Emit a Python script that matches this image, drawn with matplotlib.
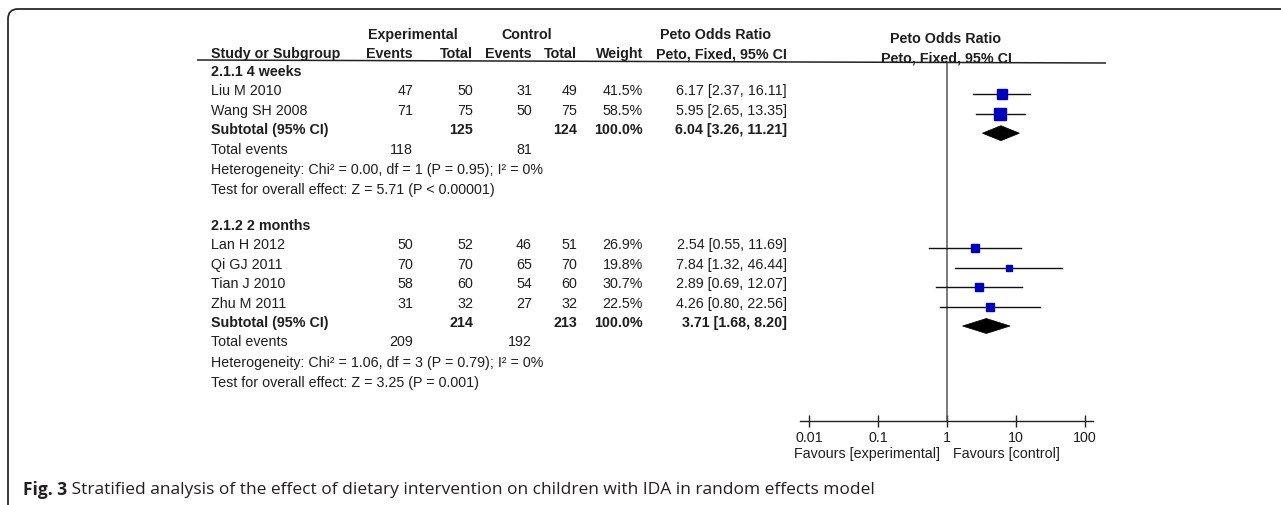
import matplotlib
matplotlib.use("Agg")
import matplotlib.pyplot as plt
from matplotlib.path import Path
from matplotlib.patches import PathPatch, Polygon
import numpy as np

# ---------------- data ----------------
sub1_title = "2.1.1 4 weeks"
sub1_studies = ["Liu M 2010", "Wang SH 2008"]
sub1_exp_events = [47, 71]
sub1_exp_total = [50, 75]
sub1_ctl_events = [31, 50]
sub1_ctl_total = [49, 75]
sub1_weight = [41.5, 58.5]
sub1_or = [6.17, 5.95]
sub1_lo = [2.37, 2.65]
sub1_hi = [16.11, 13.35]
sub1_tot_exp, sub1_tot_ctl = 125, 124
sub1_ev_exp, sub1_ev_ctl = 118, 81
sub1_pooled = (6.04, 3.26, 11.21)
sub1_het = "Heterogeneity: Chi\u00b2 = 0.00, df = 1 (P = 0.95); I\u00b2 = 0%"
sub1_test = "Test for overall effect: Z = 5.71 (P < 0.00001)"

sub2_title = "2.1.2 2 months"
sub2_studies = ["Lan H 2012", "Qi GJ 2011", "Tian J 2010", "Zhu M 2011"]
sub2_exp_events = [50, 70, 58, 31]
sub2_exp_total = [52, 70, 60, 32]
sub2_ctl_events = [46, 65, 54, 27]
sub2_ctl_total = [51, 70, 60, 32]
sub2_weight = [26.9, 19.8, 30.7, 22.5]
sub2_or = [2.54, 7.84, 2.89, 4.26]
sub2_lo = [0.55, 1.32, 0.69, 0.80]
sub2_hi = [11.69, 46.44, 12.07, 22.56]
sub2_tot_exp, sub2_tot_ctl = 214, 213
sub2_ev_exp, sub2_ev_ctl = 209, 192
sub2_pooled = (3.71, 1.68, 8.20)
sub2_het = "Heterogeneity: Chi\u00b2 = 1.06, df = 3 (P = 0.79); I\u00b2 = 0%"
sub2_test = "Test for overall effect: Z = 3.25 (P = 0.001)"

tick_values = [0.01, 0.1, 1, 10, 100]
tick_labels = ["0.01", "0.1", "1", "10", "100"]
favours_left = "Favours [experimental]"
favours_right = "Favours [control]"
caption_bold = "Fig. 3"
caption_text = "Stratified analysis of the effect of dietary intervention on children with IDA in random effects model"

# ---------------- layout ----------------
W, H = 1281, 506
fig = plt.figure(figsize=(W / 100, H / 100), dpi=100)
plt.rcParams['font.family'] = ['Liberation Sans', 'DejaVu Sans']
TXT = '#1e1e1e'
FS = 10.3

ax = fig.add_axes([0, 0, 1, 1])
ax.set_xlim(0, W)
ax.set_ylim(H, 0)
ax.axis('off')

# frame with rounded corner
r = 10
verts = [(W, 10), (8 + r, 10), (8, 10), (8, 10 + r), (8, H)]
codes = [Path.MOVETO, Path.LINETO, Path.CURVE3, Path.CURVE3, Path.LINETO]
ax.add_patch(PathPatch(Path(verts, codes), fill=False, lw=1.3, ec='#2a2a2a'))

# column positions (px)
X_NAME = 211
X_EE, X_ET, X_CE, X_CT, X_W, X_CI = 413, 473, 532, 577, 643, 787

def t(x, y, s, ha='left', bold=False, size=FS, **kw):
    ax.text(x, y, s, ha=ha, va='center', fontsize=size, color=TXT,
            fontweight='bold' if bold else 'normal', **kw)

# headers
t(413, 35, "Experimental", ha='center', bold=True)
t(527, 35, "Control", ha='center', bold=True)
t(716, 35, "Peto Odds Ratio", ha='center', bold=True)
t(946, 39, "Peto Odds Ratio", ha='center', bold=True)
y_h2 = 54
t(X_NAME, y_h2, "Study or Subgroup", bold=True)
t(X_EE, y_h2, "Events", ha='right', bold=True)
t(X_ET, y_h2, "Total", ha='right', bold=True)
t(X_CE, y_h2, "Events", ha='right', bold=True)
t(X_CT, y_h2, "Total", ha='right', bold=True)
t(X_W, y_h2, "Weight", ha='right', bold=True)
t(X_CI, y_h2, "Peto, Fixed, 95% CI", ha='right', bold=True)
t(946, 58, "Peto, Fixed, 95% CI", ha='center', bold=True)
ax.plot([197, 1106], [61, 64], color='#222222', lw=1.1, solid_capstyle='butt')

ROW = 19.4
AXIS_Y = 422
# forest axes sized in px coordinates
x_lo_px, x_hi_px = 800, 1093
one_px, dec_px = 947, 69
top_px = 64
fax = fig.add_axes([x_lo_px / W, 1 - AXIS_Y / H, (x_hi_px - x_lo_px) / W, (AXIS_Y - top_px) / H])
fax.set_xscale('log')
fax.set_xlim(10 ** ((x_lo_px - one_px) / dec_px), 10 ** ((x_hi_px - one_px) / dec_px))
fax.set_ylim(AXIS_Y, top_px)
fax.patch.set_alpha(0)
for s in ['top', 'left', 'right']:
    fax.spines[s].set_visible(False)
fax.spines['bottom'].set_color('#222222')
fax.spines['bottom'].set_linewidth(1.0)
fax.set_yticks([])
fax.set_xticks(tick_values)
fax.set_xticklabels(tick_labels)
fax.minorticks_off()
fax.tick_params(axis='x', direction='inout', length=9, width=1.0, color='#222222',
                labelsize=FS, labelcolor=TXT, pad=2)
fax.axvline(1, color='#555555', lw=1.1)

def fmt_ci(v):
    return f"{v[0]:.2f} [{v[1]:.2f}, {v[2]:.2f}]"

def block(y0, title, studies, ee, et, ce, ct, wt, orr, lo, hi, tot_e, tot_c, ev_e, ev_c, pooled, het, test):
    t(X_NAME, y0, title, bold=True)
    y = y0
    for i, s in enumerate(studies):
        y = y0 + ROW * (i + 1)
        t(X_NAME, y, s)
        t(X_EE, y, str(ee[i]), ha='right')
        t(X_ET, y, str(et[i]), ha='right')
        t(X_CE, y, str(ce[i]), ha='right')
        t(X_CT, y, str(ct[i]), ha='right')
        t(X_W, y, f"{wt[i]:.1f}%", ha='right')
        t(X_CI, y, fmt_ci((orr[i], lo[i], hi[i])), ha='right')
        yp = y + 4
        fax.plot([lo[i], hi[i]], [yp, yp], color='#111111', lw=1.0, zorder=2)
        fax.plot([orr[i]], [yp], marker='s', ms=1.12 * np.sqrt(wt[i]),
                 color='#0000bf', mec='#0000bf', zorder=3)
    y = y + ROW
    t(X_NAME, y, "Subtotal (95% CI)", bold=True)
    t(X_ET, y, str(tot_e), ha='right', bold=True)
    t(X_CT, y, str(tot_c), ha='right', bold=True)
    t(X_W, y, "100.0%", ha='right', bold=True)
    t(X_CI, y, fmt_ci(pooled), ha='right', bold=True)
    yp = y + 4
    hh = 7.5
    fax.add_patch(Polygon([(pooled[1], yp), (pooled[0], yp - hh), (pooled[2], yp), (pooled[0], yp + hh)],
                          closed=True, fc='black', ec='black', lw=0.5, zorder=3))
    y = y + ROW
    t(X_NAME, y, "Total events")
    t(X_EE, y, str(ev_e), ha='right')
    t(X_CE, y, str(ev_c), ha='right')
    y = y + ROW + 1
    t(X_NAME, y, het)
    y = y + ROW + 1
    t(X_NAME, y, test)

block(72, sub1_title, sub1_studies, sub1_exp_events, sub1_exp_total, sub1_ctl_events, sub1_ctl_total,
      sub1_weight, sub1_or, sub1_lo, sub1_hi, sub1_tot_exp, sub1_tot_ctl, sub1_ev_exp, sub1_ev_ctl,
      sub1_pooled, sub1_het, sub1_test)
block(226, sub2_title, sub2_studies, sub2_exp_events, sub2_exp_total, sub2_ctl_events, sub2_ctl_total,
      sub2_weight, sub2_or, sub2_lo, sub2_hi, sub2_tot_exp, sub2_tot_ctl, sub2_ev_exp, sub2_ev_ctl,
      sub2_pooled, sub2_het, sub2_test)

# favours labels
t(940, 454, favours_left, ha='right')
t(953, 454, favours_right, ha='left')

# caption
c1 = ax.text(23, 490, caption_bold, ha='left', va='center', fontsize=12.5, fontweight='bold',
             color='#231f20', family=['Open Sans', 'DejaVu Sans'])
ax.annotate(" " + caption_text, xy=(1, 0.5), xycoords=c1, ha='left', va='center', fontsize=12.5,
            color='#231f20', family=['Open Sans', 'DejaVu Sans'])

fig.savefig("out.png", dpi=100)
